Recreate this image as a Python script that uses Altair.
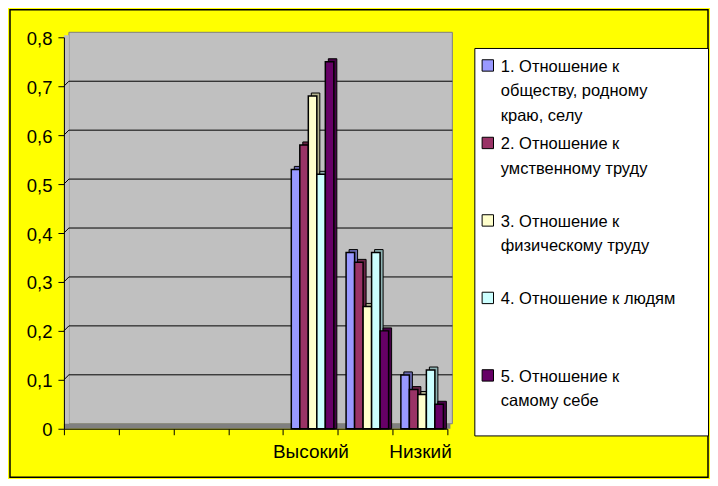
import altair as alt
import pandas as pd

# ---- data ----
categories = ["_1", "_2", "_3", "_4", "Высокий", "Средний", "Низкий"]
shown_labels = ["Высокий", "Низкий"]
series = [
    "1. Отношение к\nобществу, родному\nкраю, селу",
    "2. Отношение к\nумственному труду",
    "3. Отношение к\nфизическому труду",
    "4. Отношение к людям",
    "5. Отношение к\nсамому себе",
]
high_vals = [0.53, 0.58, 0.68, 0.52, 0.75]
mid_vals = [0.36, 0.34, 0.25, 0.36, 0.20]
low_vals = [0.11, 0.08, 0.07, 0.12, 0.05]
y_ticks = [0, 0.1, 0.2, 0.3, 0.4, 0.5, 0.6, 0.7, 0.8]
grid_levels = [0.1, 0.2, 0.3, 0.4, 0.5, 0.6, 0.7]

# ---- styles ----
front_colors = ["#9999FF", "#993366", "#FFFFCC", "#CCFFFF", "#660066"]
side_colors = ["#6B6BB3", "#6B2447", "#B3B38F", "#8FB3B3", "#470047"]
FONT = "Liberation Sans"
W, H = 384, 392
STEP = W / 7
DEPTH = 5
BAR_DEPTH = 3

rows = []
for cat, vals in zip(["Высокий", "Средний", "Низкий"], [high_vals, mid_vals, low_vals]):
    for s, v in zip(series, vals):
        rows.append({"cat": cat, "series": s, "value": v})
bars_df = pd.DataFrame(rows)
grid_df = pd.DataFrame({"value": grid_levels})
one = pd.DataFrame({"a": [0]})

x_scale = alt.Scale(domain=categories, paddingInner=0, paddingOuter=0)
label_expr = "indexof(" + str(shown_labels) + ", datum.value) >= 0 ? datum.value : ''"

x_enc = alt.X(
    "cat:N",
    scale=x_scale,
    axis=alt.Axis(
        title=None, tickBand="extent", labelExpr=label_expr, labelAngle=0,
        labelFont=FONT, labelFontSize=19, labelColor="black", tickColor="black",
        domainColor="black", tickSize=6, labelPadding=8, zindex=1,
    ),
)
y_enc = alt.Y(
    "value:Q",
    stack=False,
    scale=alt.Scale(domain=[0, 0.8], nice=False),
    axis=alt.Axis(
        title=None, values=y_ticks, grid=False,
        labelExpr="replace(format(datum.value, '.1~f'), '.', ',')",
        labelFont=FONT, labelFontSize=18.5, labelColor="black", tickColor="black",
        domainColor="black", tickSize=6, labelPadding=6, labelOffset=1, zindex=1,
    ),
)

border = alt.Chart(one).mark_rect(fill="transparent", stroke="black", strokeWidth=1.5).encode(
    x=alt.value(-54), x2=alt.value(645), y=alt.value(-27.5), y2=alt.value(440.5)
)
back_wall = alt.Chart(one).mark_rect(fill="#C0C0C0", stroke="#808080", strokeWidth=1).encode(
    x=alt.value(DEPTH), x2=alt.value(W + DEPTH), y=alt.value(-DEPTH), y2=alt.value(H - DEPTH)
)
side_wall = alt.Chart(one).mark_rect(fill="#C0C0C0").encode(
    x=alt.value(0), x2=alt.value(DEPTH), y=alt.value(-2), y2=alt.value(H)
)
floor = alt.Chart(one).mark_rect(fill="#808080").encode(
    x=alt.value(0), x2=alt.value(W + 3), y=alt.value(H - DEPTH), y2=alt.value(H)
)
grid_back = alt.Chart(grid_df).mark_rule(color="black", strokeWidth=1, yOffset=-DEPTH).encode(
    y=y_enc, x=alt.value(DEPTH), x2=alt.value(W + DEPTH)
)
grid_side = alt.Chart(grid_df).mark_rule(color="black", strokeWidth=1, y2Offset=-DEPTH).encode(
    y=y_enc, y2=alt.Y2("value"), x=alt.value(0), x2=alt.value(DEPTH)
)

off_kw = dict(domain=series, paddingInner=0, paddingOuter=0.72, align=0.675)
shadow = alt.Chart(bars_df).mark_bar(stroke="black", strokeWidth=1, yOffset=-BAR_DEPTH).encode(
    x=x_enc,
    xOffset=alt.XOffset("series:N", scale=alt.Scale(range=[BAR_DEPTH, STEP + BAR_DEPTH], **off_kw)),
    y=y_enc,
    fill=alt.Fill("series:N", scale=alt.Scale(domain=series, range=side_colors), legend=None),
)
front = alt.Chart(bars_df).mark_bar(stroke="black", strokeWidth=1.5).encode(
    x=x_enc,
    xOffset=alt.XOffset("series:N", scale=alt.Scale(range=[0, STEP], **off_kw)),
    y=y_enc,
    color=alt.Color("series:N", scale=alt.Scale(domain=series, range=front_colors), legend=None),
)

main = alt.layer(
    border, back_wall, side_wall, floor, grid_back, grid_side, shadow, front
).resolve_scale(xOffset="independent").properties(width=W, height=H)

# ---- legend panel ----
LW, LH = 234, 388
LSTEP = LH / len(series)
leg_df = pd.DataFrame({"series": series})
leg_y = alt.Y(
    "series:N",
    scale=alt.Scale(domain=series, paddingInner=0, paddingOuter=0), axis=None,
)
leg_sq = alt.Chart(leg_df).mark_square(
    size=130, stroke="black", strokeWidth=1, opacity=1, yOffset=17.5 - LSTEP / 2
).encode(
    x=alt.value(13.5), y=leg_y,
    color=alt.Color("series:N", scale=alt.Scale(domain=series, range=front_colors), legend=None),
)
leg_txt = alt.Chart(leg_df).mark_text(
    align="left", baseline="alphabetic", lineBreak="\n", lineHeight=24.5,
    font=FONT, fontSize=16.5, color="black", yOffset=24 - LSTEP / 2,
).encode(x=alt.value(26.5), y=leg_y, text="series:N")
legend = alt.layer(leg_sq, leg_txt).properties(
    width=LW, height=LH, view=alt.ViewBackground(fill="white", stroke="black", strokeWidth=1)
)
spacer = alt.Chart(one).mark_point(opacity=0).encode(x=alt.value(0), y=alt.value(0)).properties(
    width=LW, height=1
)
right = alt.vconcat(spacer, legend, spacing=9.7, bounds="flush")

chart = alt.hconcat(main, right, spacing=27, bounds="flush").properties(
    background="#FFFF00", padding=0
).configure_view(stroke="transparent")

chart.save("out.html", embed_options={"renderer": "svg", "actions": False})
